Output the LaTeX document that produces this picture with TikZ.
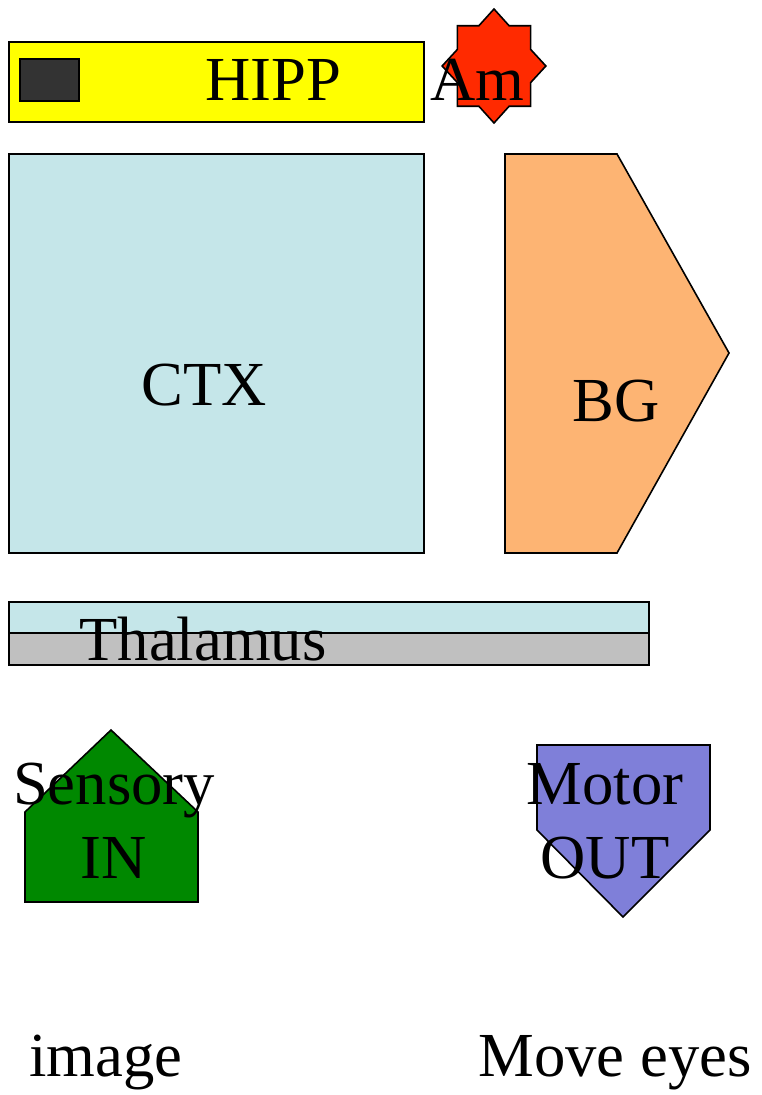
\documentclass[tikz,border=0pt]{standalone}
\usepackage{fontspec}
\setmainfont{Liberation Serif}
\usetikzlibrary{shapes.geometric}

\definecolor{hippyellow}{HTML}{FFFF00}
\definecolor{hippdark}{HTML}{333333}
\definecolor{amred}{HTML}{FF2A00}
\definecolor{ctxblue}{HTML}{C5E6E9}
\definecolor{bgorange}{HTML}{FDB473}
\definecolor{thalgray}{HTML}{C0C0C0}
\definecolor{sensgreen}{HTML}{008800}
\definecolor{motorblue}{HTML}{7F7FD9}

\begin{document}
\begin{tikzpicture}[x=0.75pt,y=-0.75pt,
    area/.style={draw,line width=1.2pt,line join=miter},
    txt/.style={font=\fontsize{47}{55.5}\selectfont,inner sep=0pt,align=center}]
    \useasboundingbox (0,0) rectangle (761,1095);
    % hippocampus and amygdala
    \filldraw[area,fill=hippyellow] (9,42) rectangle (424,122);
    \filldraw[area,fill=hippdark] (20,59) rectangle (79,101);
    \node[txt,anchor=base] (hipp) at (273,101) {HIPP};
    \node[star,star points=8,star point ratio=1.31,minimum size=114*0.75pt,
      inner sep=0pt,xscale=0.91,draw,line width=1.2pt,fill=amred] (amstar) at (494,66) {};
    \node[txt,anchor=base] (am) at (477,101) {Am};
    % cortex and basal ganglia
    \filldraw[area,fill=ctxblue] (9,154) rectangle (424,553);
    \node[txt,anchor=base] (ctx) at (204,405) {CTX};
    \filldraw[area,fill=bgorange] (505,154) -- (617,154) -- (729,353) -- (617,553) -- (505,553) -- cycle;
    \node[txt,anchor=base] (bg) at (616,421) {BG};
    % thalamus
    \filldraw[area,fill=ctxblue] (9,602) rectangle (649,633);
    \filldraw[area,fill=thalgray] (9,633) rectangle (649,665);
    \node[txt,anchor=base] (thal) at (203,660) {Thalamus};
    % input and output
    \filldraw[area,fill=sensgreen] (25,902) -- (198,902) -- (198,812) -- (111,730) -- (25,812) -- cycle;
    \node[txt] (sens) at (114,821) {Sensory\\IN};
    \filldraw[area,fill=motorblue] (537,745) -- (710,745) -- (710,830) -- (623,917) -- (537,830) -- cycle;
    \node[txt] (motor) at (605,821) {Motor\\OUT};
    \node[txt,anchor=base] (img) at (106,1076) {image};
    \node[txt,anchor=base] (eyes) at (615,1076) {Move eyes};
\end{tikzpicture}
\end{document}
